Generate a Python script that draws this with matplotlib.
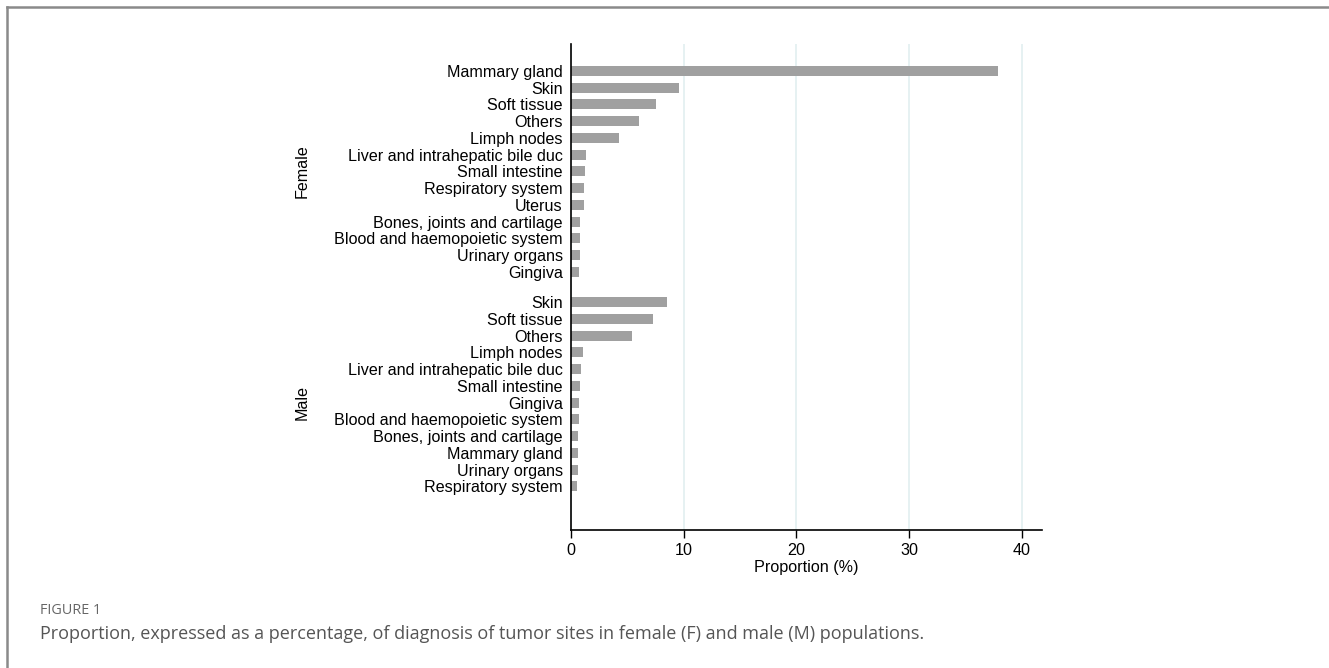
import matplotlib.pyplot as plt
from matplotlib.lines import Line2D
import matplotlib.transforms as mtrans
import numpy as np

# data (percent)
female_sites = ["Mammary gland", "Skin", "Soft tissue", "Others", "Limph nodes",
                "Liver and intrahepatic bile duc", "Small intestine", "Respiratory system",
                "Uterus", "Bones, joints and cartilage", "Blood and haemopoietic system",
                "Urinary organs", "Gingiva"]
female_vals = [37.9, 9.6, 7.5, 6.0, 4.25, 1.36, 1.24, 1.18, 1.12, 0.83, 0.8, 0.8, 0.74]

male_sites = ["Skin", "Soft tissue", "Others", "Limph nodes",
              "Liver and intrahepatic bile duc", "Small intestine", "Gingiva",
              "Blood and haemopoietic system", "Bones, joints and cartilage",
              "Mammary gland", "Urinary organs", "Respiratory system"]
male_vals = [8.54, 7.24, 5.44, 1.06, 0.91, 0.8, 0.74, 0.74, 0.65, 0.65, 0.62, 0.56]

groups = ["Female", "Male"]
xticks = [0, 10, 20, 30, 40]

plt.rcParams['font.family'] = ['Liberation Sans', 'DejaVu Sans']

fig = plt.figure(figsize=(13.29, 6.68), dpi=100)
ax = fig.add_axes([571 / 1329, 1 - 530 / 668, (1042 - 571) / 1329, (530 - 44) / 668])

# positions: female rows then a gap then male rows
pos_f = np.arange(len(female_sites))
pos_m = 13.8 + np.arange(len(male_sites))

ax.barh(pos_f, female_vals, height=0.6, color="#a0a0a0")
ax.barh(pos_m, male_vals, height=0.6, color="#a0a0a0")

ax.set_yticks(list(pos_f) + list(pos_m))
ax.set_yticklabels(female_sites + male_sites, fontsize=11.6)
ax.tick_params(axis='y', length=0, pad=6)
ax.set_ylim(27.4, -1.6)

ax.set_xlim(0, 41.8)
ax.set_xticks(xticks)
ax.tick_params(axis='x', labelsize=11.6, length=6, width=1)
ax.set_xlabel("Proportion (%)", fontsize=11.6, labelpad=1)
ax.xaxis.grid(True, color="#e2eff0", linewidth=1.2)
ax.set_axisbelow(True)
for s in ["top", "right"]:
    ax.spines[s].set_visible(False)
for s in ["left", "bottom"]:
    ax.spines[s].set_linewidth(1.2)

# group labels
tr = mtrans.blended_transform_factory(fig.transFigure, ax.transData)
ax.text(302 / 1329, pos_f.mean(), groups[0], rotation=90, ha="center", va="center",
        fontsize=11.6, transform=tr)
ax.text(302 / 1329, pos_m.mean() + 0.5, groups[1], rotation=90, ha="center", va="center",
        fontsize=11.6, transform=tr)

# page frame and caption
fig.add_artist(Line2D([7 / 1329, 1], [1 - 7 / 668, 1 - 7 / 668], color="#8a8a8a", linewidth=1.8))
fig.add_artist(Line2D([7 / 1329, 7 / 1329], [0, 1 - 7 / 668], color="#8a8a8a", linewidth=1.8))
fig.text(40 / 1329, 1 - 610 / 668, "FIGURE 1", fontsize=10.4, color="#666666",
         family=["Open Sans", "DejaVu Sans"], va="center")
fig.text(40 / 1329, 1 - 634 / 668,
         "Proportion, expressed as a percentage, of diagnosis of tumor sites in female (F) and male (M) populations.",
         fontsize=13, color="#555555", family=["Open Sans", "DejaVu Sans"], va="center")

plt.savefig("out.png", dpi=100)
